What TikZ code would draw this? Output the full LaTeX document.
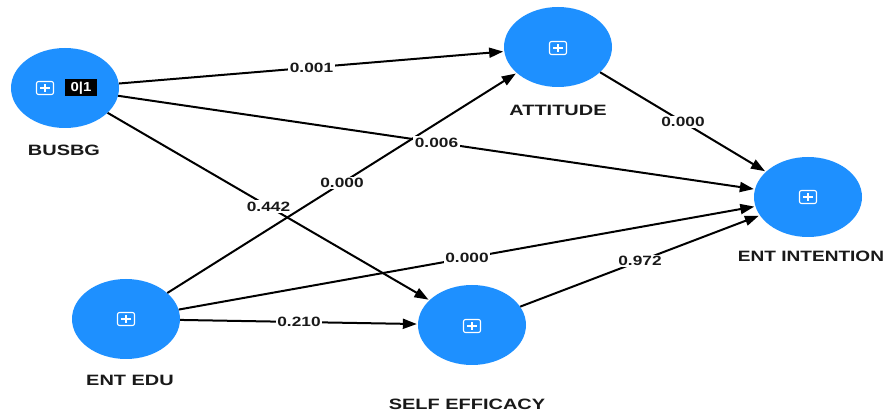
\documentclass[tikz,border=0pt]{standalone}
\usepackage{fontspec}
\usepackage{graphicx}
\setmainfont{Liberation Sans}
\usetikzlibrary{shapes.geometric,arrows.meta}
\definecolor{lvblue}{RGB}{30,144,255}
\newcommand{\sxtext}[2]{\scalebox{#1}[1]{#2}}
\tikzset{
  latent/.style={ellipse, fill=lvblue, draw=none, minimum width=108pt, minimum height=80pt, inner sep=0pt},
  plusicon/.style={draw=white, line width=1.1pt, rounded corners=2pt, minimum width=17pt, minimum height=13pt, inner sep=0pt,
    path picture={\draw[white,line width=1.1pt] ([xshift=-5pt]path picture bounding box.center) -- ([xshift=5pt]path picture bounding box.center)
      ([yshift=-4pt]path picture bounding box.center) -- ([yshift=4pt]path picture bounding box.center);}},
  binbox/.style={fill=black, text=white, inner sep=0pt, minimum width=32pt, minimum height=17pt, font=\bfseries\fontsize{13}{13}\selectfont},
  vlabel/.style={font=\bfseries\fontsize{15}{15}\selectfont, text=black!90, inner sep=0pt},
  edge/.style={line width=2pt, -{Triangle[length=14pt,width=10pt]}, shorten >=1pt},
  lbl/.style={fill=white, inner sep=1.5pt, font=\bfseries\fontsize{13.5}{13.5}\selectfont, text=black!90}
}
\begin{document}
\begin{tikzpicture}[x=1pt,y=-1pt]
\useasboundingbox (0,0) rectangle (887,411);
\fill[white] (0,0) rectangle (887,411);
% latent variables
\node[latent] (busbg) at (65,88) {};
\node[latent] (att) at (558,47) {};
\node[latent] (int) at (808,197) {};
\node[latent] (edu) at (126,319) {};
\node[latent] (self) at (472,325) {};
% icons
\node[plusicon] (ib) at (45,88) {};
\node[binbox] (bin) at (81,88) {\sxtext{1.15}{0|1}};
\node[plusicon] (ia) at (558,48) {};
\node[plusicon] (ii) at (808,197) {};
\node[plusicon] (ie) at (126,319) {};
\node[plusicon] (is) at (472,326) {};
% names
\node[vlabel] (lbusbg) at (64,150) {\sxtext{1.33}{BUSBG}};
\node[vlabel] (latt) at (558,110) {\sxtext{1.33}{ATTITUDE}};
\node[vlabel] (lint) at (811,256) {\sxtext{1.27}{ENT INTENTION}};
\node[vlabel] (ledu) at (130,380) {\sxtext{1.33}{ENT EDU}};
\node[vlabel] (lself) at (467,404) {\sxtext{1.33}{SELF EFFICACY}};
% connectors
\draw[edge] (busbg) -- (att);
\draw[edge] (busbg) -- (int);
\draw[edge] (busbg) -- (self);
\draw[edge] (edu) -- (att);
\draw[edge] (edu) -- (int);
\draw[edge] (edu) -- (self);
\draw[edge] (self) -- (int);
\draw[edge] (att) -- (int);
% path coefficients
\path (busbg.center) -- node[lbl] (c1) {\sxtext{1.28}{0.001}} (att.center);
\path (busbg.center) -- node[lbl] (c2) {\sxtext{1.28}{0.006}} (int.center);
\path (busbg.center) -- node[lbl] (c3) {\sxtext{1.28}{0.442}} (self.center);
\path (edu.center) -- node[lbl] (c4) {\sxtext{1.28}{0.000}} (att.center);
\path (edu.center) -- node[lbl] (c5) {\sxtext{1.28}{0.000}} (int.center);
\path (edu.center) -- node[lbl] (c6) {\sxtext{1.28}{0.210}} (self.center);
\path (self.center) -- node[lbl] (c7) {\sxtext{1.28}{0.972}} (int.center);
\path (att.center) -- node[lbl] (c8) {\sxtext{1.28}{0.000}} (int.center);
\end{tikzpicture}
\end{document}
